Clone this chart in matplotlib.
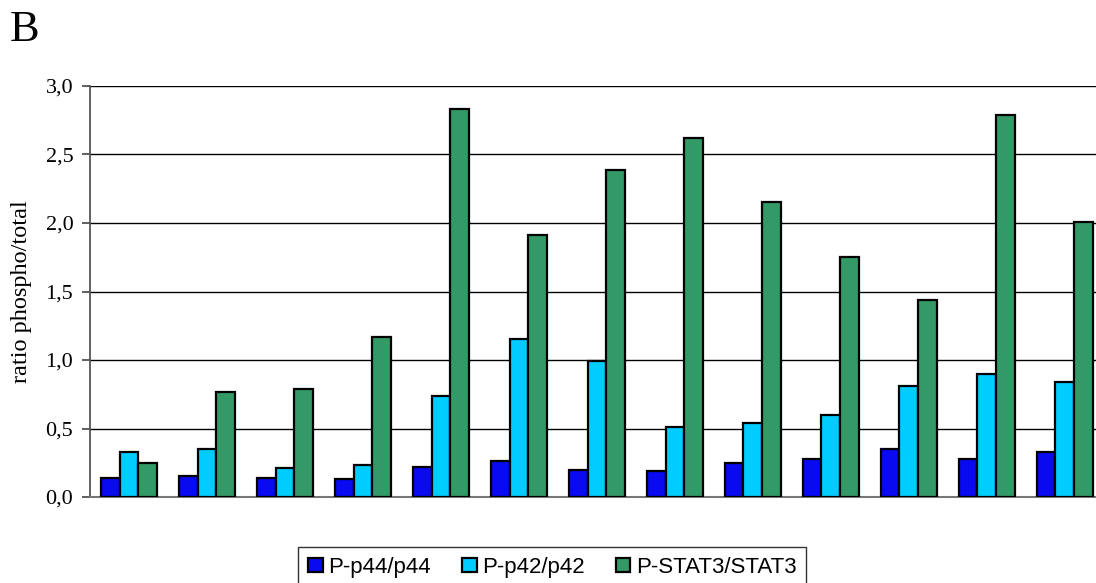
import matplotlib
matplotlib.use("Agg")
import matplotlib.pyplot as plt
import numpy as np

# values
p44 = [0.14, 0.15, 0.14, 0.13, 0.22, 0.26, 0.20, 0.19, 0.25, 0.28, 0.35, 0.28, 0.33]
p42 = [0.33, 0.35, 0.21, 0.23, 0.74, 1.15, 0.99, 0.51, 0.54, 0.60, 0.81, 0.90, 0.84]
stat3 = [0.25, 0.77, 0.79, 1.17, 2.83, 1.91, 2.39, 2.62, 2.15, 1.75, 1.44, 2.79, 2.01]
series_names = ["P-p44/p44", "P-p42/p42", "P-STAT3/STAT3"]
colors = ["#0A0AF0", "#00CCFF", "#339966"]
yticks = [0.0, 0.5, 1.0, 1.5, 2.0, 2.5, 3.0]

fig = plt.figure(figsize=(10.96, 5.83), dpi=100)
ax = fig.add_axes([0.0821, 0.1475, 0.925, 0.705])

x = np.arange(len(p44))
w = 0.24
for i, (vals, name, c) in enumerate(zip([p44, p42, stat3], series_names, colors)):
    ax.bar(x + (i - 1) * w, vals, w, color=c, edgecolor="black", linewidth=1.6,
           label=name, zorder=3)

ax.set_xlim(-0.5, len(p44) - 0.5)
ax.set_ylim(0, 3.0)
ax.set_yticks(yticks)
ax.set_yticklabels([f"{t:.1f}".replace(".", ",") for t in yticks],
                   family="Liberation Serif", fontsize=16)
ax.set_xticks([])
ax.yaxis.grid(True, color="black", linewidth=1.0, zorder=0)
ax.tick_params(axis="y", direction="out", length=6, width=1.2, color="#444444", pad=6)
for s in ["top", "right"]:
    ax.spines[s].set_visible(False)
ax.spines["left"].set_color("#555555")
ax.spines["left"].set_linewidth(1.3)
ax.spines["bottom"].set_color("#777777")
ax.spines["bottom"].set_linewidth(1.5)
ax.set_ylabel("ratio phospho/total", family="Liberation Serif", fontsize=17.5, labelpad=10)

fig.text(0.009, 0.93, "B", family="Liberation Serif", fontsize=32)

leg = fig.legend(loc="upper center", bbox_to_anchor=(0.504, 0.062), ncol=3,
                 prop={"family": "Liberation Sans", "size": 16},
                 frameon=True, fancybox=False, edgecolor="black",
                 handlelength=0.65, handleheight=0.65, handletextpad=0.25,
                 columnspacing=1.4, borderpad=0.45, borderaxespad=0)
leg.get_frame().set_linewidth(1.0)

fig.savefig("out.png", dpi=100)
